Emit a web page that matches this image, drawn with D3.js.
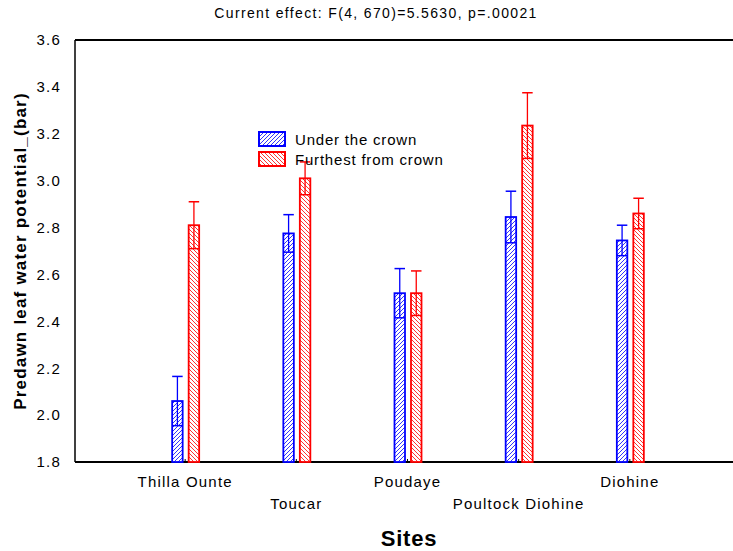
<!DOCTYPE html>
<meta charset="utf-8">
<style>
  body { margin: 0; background: #fff; }
  svg { display: block; font-family: "Liberation Sans", Arial, sans-serif; }
  .axis path, .axis line { stroke: #000; }
  .axis text { font-size: 15px; fill: #000; letter-spacing: 1.2px; }
</style>
<body></body>
<script src="https://cdn.jsdelivr.net/npm/d3@7"></script>
<script>

var sites = ["Thilla Ounte", "Toucar", "Poudaye", "Poultock Diohine", "Diohine"];
var seriesNames = ["Under the crown", "Furthest from crown"];
// means and standard errors
var underMean = [2.06, 2.775, 2.52, 2.845, 2.745];
var underSE = [0.105, 0.08, 0.105, 0.11, 0.065];
var furthestMean = [2.81, 3.01, 2.52, 3.235, 2.86];
var furthestSE = [0.10, 0.07, 0.095, 0.14, 0.065];
var yTicks = [1.8, 2.0, 2.2, 2.4, 2.6, 2.8, 3.0, 3.2, 3.4, 3.6];

var W = 733, H = 551;
var plotL = 75, plotT = 40, plotB = 462;

var svg = d3.select("body").append("svg")
    .attr("width", W)
    .attr("height", H);

// hatch patterns
var defs = svg.append("defs");
function hatch(id, color, dir) {
  var p = defs.append("pattern")
      .attr("id", id)
      .attr("patternUnits", "userSpaceOnUse")
      .attr("width", 4).attr("height", 4);
  p.append("rect").attr("width", 4).attr("height", 4).attr("fill", "#fff");
  var d = dir > 0 ? "M-1,1 l2,-2 M0,4 l4,-4 M3,5 l2,-2" : "M-1,3 l2,2 M0,0 l4,4 M3,-1 l2,2";
  p.append("path").attr("d", d).attr("stroke", color).attr("stroke-width", 1);
}
hatch("hBlue", "#3333ff", 1);
hatch("hRed", "#ff3333", -1);

var x = d3.scaleLinear().domain([0, 6]).range([74, 741]);
var y = d3.scaleLinear().domain([1.8, 3.6]).range([plotB, plotT]);

// title
svg.append("text")
    .attr("x", 376).attr("y", 18)
    .attr("text-anchor", "middle")
    .style("font-size", "14px")
    .style("letter-spacing", "1.35px")
    .text("Current effect: F(4, 670)=5.5630, p=.00021");

// y axis
var yaxis = d3.axisLeft(y).tickValues(yTicks).tickFormat(d3.format(".1f")).tickSize(0).tickPadding(14);
svg.append("g").attr("class", "axis")
    .attr("transform", "translate(" + plotL + ",0)")
    .call(yaxis)
    .select(".domain").remove();

// frame lines
svg.append("line").attr("x1", plotL).attr("x2", plotL).attr("y1", plotT).attr("y2", plotB)
    .attr("stroke", "#000").attr("stroke-width", 1.5);
svg.append("line").attr("x1", plotL).attr("x2", W).attr("y1", plotT).attr("y2", plotT)
    .attr("stroke", "#000").attr("stroke-width", 2);
svg.append("line").attr("x1", plotL).attr("x2", W).attr("y1", plotB).attr("y2", plotB)
    .attr("stroke", "#000").attr("stroke-width", 2);

// x axis ticks and labels (staggered)
var xg = svg.append("g").attr("class", "axis");
sites.forEach(function(s, i) {
  xg.append("line")
      .attr("x1", x(i + 1)).attr("x2", x(i + 1))
      .attr("y1", plotB).attr("y2", plotB - 3)
      .attr("stroke", "#000");
  xg.append("text")
      .attr("x", x(i + 1))
      .attr("y", i % 2 == 0 ? 487 : 509)
      .attr("text-anchor", "middle")
      .text(s);
});

// axis titles
svg.append("text")
    .attr("transform", "translate(26," + ((plotT + plotB) / 2) + ") rotate(-90)")
    .attr("text-anchor", "middle")
    .style("font-size", "17px")
    .style("font-weight", "bold")
    .style("letter-spacing", "1.2px")
    .text("Predawn leaf water potential_(bar)");

svg.append("text")
    .attr("x", 409).attr("y", 546)
    .attr("text-anchor", "middle")
    .style("font-size", "22px")
    .style("font-weight", "bold")
    .style("letter-spacing", "0.8px")
    .text("Sites");

// bars
var series = [
  {mean: underMean, se: underSE, color: "#0000ff", fill: "url(#hBlue)", off: -13},
  {mean: furthestMean, se: furthestSE, color: "#ff0000", fill: "url(#hRed)", off: 3.5}
];
var bw = 10.5;

series.forEach(function(sr) {
  var g = svg.append("g");
  sr.mean.forEach(function(m, i) {
    var x0 = x(i + 1) + sr.off;
    var cx = x0 + bw / 2;
    g.append("rect")
        .attr("x", x0).attr("y", y(m))
        .attr("width", bw).attr("height", plotB - y(m))
        .attr("fill", sr.fill)
        .attr("stroke", sr.color).attr("stroke-width", 1.8);
    // lower SE line inside bar
    g.append("line")
        .attr("x1", x0).attr("x2", x0 + bw)
        .attr("y1", y(m - sr.se[i])).attr("y2", y(m - sr.se[i]))
        .attr("stroke", sr.color).attr("stroke-width", 1.5);
    // whisker
    g.append("line")
        .attr("x1", cx).attr("x2", cx)
        .attr("y1", y(m - sr.se[i])).attr("y2", y(m + sr.se[i]))
        .attr("stroke", sr.color).attr("stroke-width", 1.3);
    g.append("line")
        .attr("x1", x0).attr("x2", x0 + bw)
        .attr("y1", y(m + sr.se[i])).attr("y2", y(m + sr.se[i]))
        .attr("stroke", sr.color).attr("stroke-width", 1.5);
  });
});

// legend
var leg = svg.append("g");
series.forEach(function(sr, i) {
  leg.append("rect")
      .attr("x", 259).attr("y", 132 + i * 20)
      .attr("width", 26).attr("height", 14)
      .attr("fill", sr.fill)
      .attr("stroke", sr.color).attr("stroke-width", 2);
  leg.append("text")
      .attr("x", 295).attr("y", 145 + i * 20)
      .style("font-size", "15px")
      .style("letter-spacing", "0.8px")
      .text(seriesNames[i]);
});

</script>
